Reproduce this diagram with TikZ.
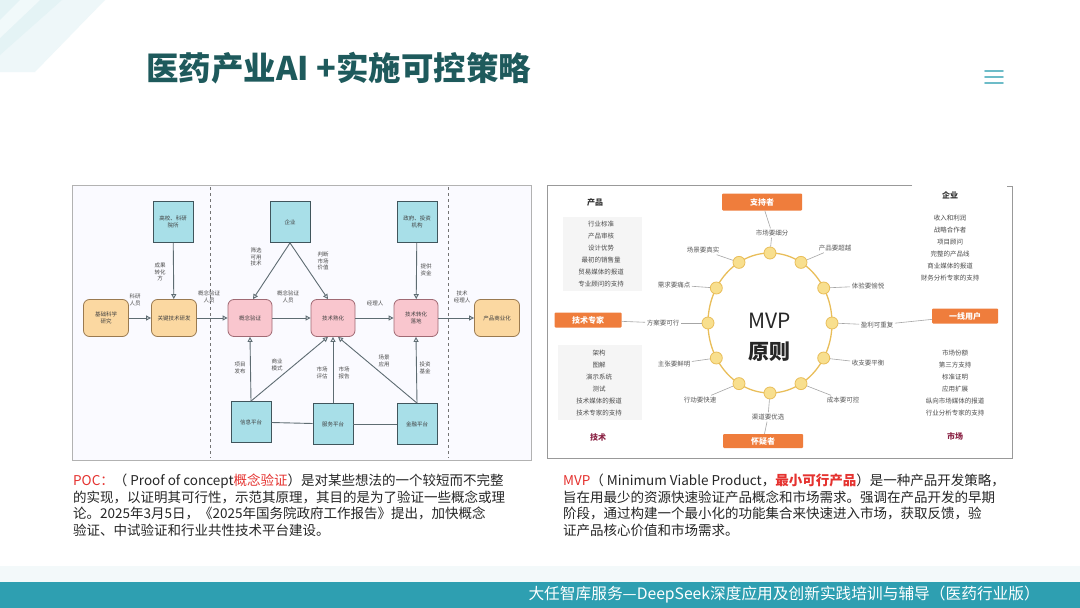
\documentclass[tikz,border=0pt]{standalone}
\usepackage{fontspec}
\setmainfont{Noto Sans CJK SC}
\usetikzlibrary{arrows.meta,calc}
\definecolor{titlec}{HTML}{1E5A5C}
\definecolor{teal}{HTML}{2E9FB1}
\definecolor{obox}{HTML}{FBD8A1}
\definecolor{oline}{HTML}{9A7A50}
\definecolor{pbox}{HTML}{F9C6CE}
\definecolor{pline}{HTML}{A06A74}
\definecolor{bbox}{HTML}{A8DFE8}
\definecolor{bline}{HTML}{40555C}
\definecolor{arrc}{HTML}{5E6C72}
\definecolor{mvpo}{HTML}{EF7D3C}
\definecolor{ringc}{HTML}{E9BE5A}
\definecolor{dotf}{HTML}{F8DF8E}
\definecolor{redt}{HTML}{E5322F}
\definecolor{headr}{HTML}{8B2345}
\begin{document}
\begin{tikzpicture}[x=1pt,y=-1pt,
  box/.style={draw, line width=0.8pt, align=center, inner sep=1pt,
    font=\fontsize{5.5}{6.5}\selectfont, text=black!75},
  obx/.style={box, fill=obox, draw=oline, rounded corners=6pt, minimum width=45pt, minimum height=37pt},
  pbx/.style={box, fill=pbox, draw=pline, rounded corners=6pt, minimum width=44pt, minimum height=37pt},
  bbx/.style={box, fill=bbox, draw=bline, minimum width=40pt, minimum height=41pt},
  lab/.style={align=center, inner sep=0.5pt, font=\fontsize{5.5}{6.5}\selectfont, text=black!70},
  arr/.style={draw=arrc, line width=0.9pt, -{Triangle[open,length=5pt,width=5pt]}},
  pln/.style={draw=arrc, line width=0.9pt},
  dot/.style={circle, fill=dotf, draw=ringc, line width=0.8pt, minimum size=12pt, inner sep=0},
  rl/.style={font=\fontsize{6.5}{7}\selectfont, text=black!65, inner sep=1.5pt},
  ob/.style={fill=mvpo, text=white, font=\fontsize{8}{9}\selectfont\bfseries, inner sep=0, rounded corners=1pt},
  lst/.style={align=center, font=\fontsize{6.5}{12}\selectfont, text=black!70, inner sep=0},
  para/.style={align=left, anchor=north west, inner sep=0, font=\fontsize{13.5}{16.5}\selectfont, text=black!85}
]
\useasboundingbox (0,0) rectangle (1080,608);
\fill[white] (0,0) rectangle (1080,608);
% top-left decoration
\fill[teal!8] (0,0) -- (105,0) -- (35,72) -- (0,72) -- cycle;
\fill[teal!13] (0,0) -- (62,0) -- (0,55) -- cycle;
\fill[white,opacity=0.5] (20,0) -- (40,0) -- (0,38) -- (0,20) -- cycle;
% title
\node[anchor=west, text=titlec, font=\fontsize{32.5}{35}\selectfont\bfseries, inner sep=0] (title) at (146,68) {医药产业AI +实施可控策略};
% hamburger
\draw[teal!70, line width=1.8pt, line cap=round] (985,71) -- (1003,71) (985,77) -- (1003,77) (985,83) -- (1003,83);
% ===== left panel =====
\draw[fill=blue!2!white, draw=black!30, line width=0.8pt] (72,185) rectangle (531,460);
\draw[dashed, black!55, line width=0.8pt] (210,187) -- (210,458);
\draw[dashed, black!55, line width=0.8pt] (448,187) -- (448,458);
\node[obx] (o1) at (106,318) {基础科学\\研究};
\node[obx] (o2) at (174,318) {关键技术研发};
\node[pbx] (p1) at (250,318) {概念验证};
\node[pbx] (p2) at (333,318) {技术熟化};
\node[pbx] (p3) at (416,318) {技术转化\\落地};
\node[obx] (o3) at (497,318) {产品商业化};
\node[bbx] (b1) at (173,222) {高校、科研\\院所};
\node[bbx] (b2) at (290,222) {企业};
\node[bbx] (b3) at (417,222) {政府、投资\\机构};
\node[bbx] (b4) at (251,422) {信息平台};
\node[bbx] (b5) at (333,424) {服务平台};
\node[bbx] (b6) at (417,424) {金融平台};
\draw[arr] (o1) -- (o2);
\draw[arr] (o2) -- (p1);
\draw[arr] (p1) -- (p2);
\draw[arr] (p2) -- (p3);
\draw[arr] (p3) -- (o3);
\draw[arr] (b1) -- (o2);
\draw[arr] (b2.south) -- ([xshift=3pt]p1.north);
\draw[arr] (b2.south) -- ([xshift=-5pt]p2.north);
\draw[arr] (b3) -- (p3);
\draw[arr] (b4.north) -- (p1.south);
\draw[arr] (b4.north) -- ([xshift=-5pt]p2.south);
\draw[arr] (b5.north) -- (p2.south);
\draw[arr] (b6.north) -- ([xshift=5pt]p2.south);
\draw[arr] (b6.north) -- (p3.south);
\draw[pln] (b4) -- (b5);
\draw[pln] (b5) -- (b6);
\node[lab] (l1) at (135,300) {科研\\人员};
\node[lab] (l2) at (160,272) {成果\\转化\\方};
\node[lab] (l3) at (209,297) {概念验证\\人员};
\node[lab] (l4) at (256,257) {筛选\\可用\\技术};
\node[lab] (l5) at (288,297) {概念验证\\人员};
\node[lab] (l6) at (323,261) {判断\\市场\\价值};
\node[lab] (l7) at (375,303) {经理人};
\node[lab] (l8) at (426,270) {提供\\资金};
\node[lab] (l9) at (462,297) {技术\\经理人};
\node[lab] (l10) at (240,368) {项目\\发布};
\node[lab] (l11) at (277,365) {商业\\模式};
\node[lab] (l12) at (322,373) {市场\\评估};
\node[lab] (l13) at (344,373) {市场\\报告};
\node[lab] (l14) at (384,361) {场景\\应用};
\node[lab] (l15) at (425,368) {投资\\基金};
% ===== right panel =====
\fill[white] (547,185) rectangle (1012,458);
\draw[black!40, line width=0.9pt] (912,185) -- (547,185) -- (547,458) -- (1012,458) -- (1012,186) -- (1007,186);
\fill[black!4] (563,217) rectangle (642,291);
\fill[black!4] (558,345) rectangle (642,420);
% ring
\draw[ringc, line width=1.3pt] (770,323) ellipse [x radius=62, y radius=70];
\foreach \a/\n in {90/d1,60/d2,30/d3,0/d4,-30/d5,-60/d6,-90/d7,-120/d8,-150/d9,180/d10,150/d11,120/d12}{
  \node[dot] (\n) at ({770+62*cos(\a)},{323-70*sin(\a)}) {};
}
\node[font=\fontsize{21}{22}\selectfont, text=black!85, inner sep=0] (mvp) at (770,321) {MVP};
\node[font=\fontsize{21}{22}\selectfont\bfseries, text=black!85, inner sep=0] (yz) at (769,352) {原则};
\node[rl] (r1) at (772,233) {市场要细分};
\node[rl] (r2) at (835,248) {产品要超越};
\node[rl] (r3) at (868,286) {体验要愉悦};
\node[rl] (r4) at (877,325) {盈利可重复};
\node[rl] (r5) at (868,363) {收支要平衡};
\node[rl] (r6) at (843,400) {成本要可控};
\node[rl] (r7) at (768,417) {渠道要优选};
\node[rl] (r8) at (700,400) {行动要快速};
\node[rl] (r9) at (674,364) {主张要鲜明};
\node[rl] (r10) at (663,323) {方案要可行};
\node[rl] (r11) at (674,285) {需求要痛点};
\node[rl] (r12) at (703,250) {场景要真实};
\foreach \d/\r in {d1/r1,d2/r2,d3/r3,d4/r4,d5/r5,d6/r6,d7/r7,d8/r8,d9/r9,d10/r10,d11/r11,d12/r12}{
  \draw[black!35, line width=0.6pt] (\d) -- (\r);
}
\node[ob, minimum width=80pt, minimum height=17pt] (sup) at (762,202) {支持者};
\node[ob, minimum width=67pt, minimum height=15pt] (tech) at (588,320) {技术专家};
\node[ob, minimum width=66pt, minimum height=15pt] (front) at (965,316) {一线用户};
\node[ob, minimum width=80pt, minimum height=14pt] (skep) at (763,441) {怀疑者};
\draw[black!35, line width=0.6pt] (sup) -- (r1);
\draw[black!35, line width=0.6pt] (tech) -- (r10);
\draw[black!35, line width=0.6pt] (r4) -- (front);
\draw[black!35, line width=0.6pt] (r7) -- (skep);
\node[font=\fontsize{8}{9}\selectfont\bfseries, text=black!80] (hp) at (595,202) {产品};
\node[lst] (lp) at (601,254.5) {行业标准\\产品审核\\设计优势\\最初的销售量\\贸易媒体的报道\\专业顾问的支持};
\node[font=\fontsize{8}{9}\selectfont\bfseries, text=black!80] (he) at (950,195) {企业};
\node[lst] (le) at (950,248) {收入和利润\\战略合作者\\项目顾问\\完整的产品线\\商业媒体的报道\\财务分析专家的支持};
\node[lst] (lt) at (599,383) {架构\\图解\\演示系统\\测试\\技术媒体的报道\\技术专家的支持};
\node[font=\fontsize{8}{9}\selectfont\bfseries, text=headr] (ht) at (598,437) {技术};
\node[lst] (lm) at (955,383) {市场份额\\第三方支持\\标准证明\\应用扩展\\纵向市场媒体的报道\\行业分析专家的支持};
\node[font=\fontsize{8}{9}\selectfont\bfseries, text=headr] (hm) at (955,436) {市场};
% ===== paragraphs =====
\node[para] (pl) at (73,474) {\textcolor{redt}{POC：}（ Proof of concept\textcolor{redt}{概念验证}）是对某些想法的一个较短而不完整\\的实现，以证明其可行性，示范其原理，其目的是为了验证一些概念或理\\论。2025年3月5日，《2025年国务院政府工作报告》提出，加快概念\\验证、中试验证和行业共性技术平台建设。};
\node[para] (pr) at (563,474) {\textcolor{redt}{MVP}（ Minimum Viable Product，\textcolor{redt}{\bfseries 最小可行产品}）是一种产品开发策略，\\旨在用最少的资源快速验证产品概念和市场需求。强调在产品开发的早期\\阶段，通过构建一个最小化的功能集合来快速进入市场，获取反馈，验\\证产品核心价值和市场需求。};
% ===== footer =====
\fill[teal!6] (0,566) rectangle (1080,582);
\fill[teal] (0,582) rectangle (1080,608);
\node[anchor=east, text=white, font=\fontsize{15.7}{18}\selectfont, inner sep=0] (foot) at (1040,595) {大任智库服务—DeepSeek深度应用及创新实践培训与辅导（医药行业版）};
\end{tikzpicture}
\end{document}
